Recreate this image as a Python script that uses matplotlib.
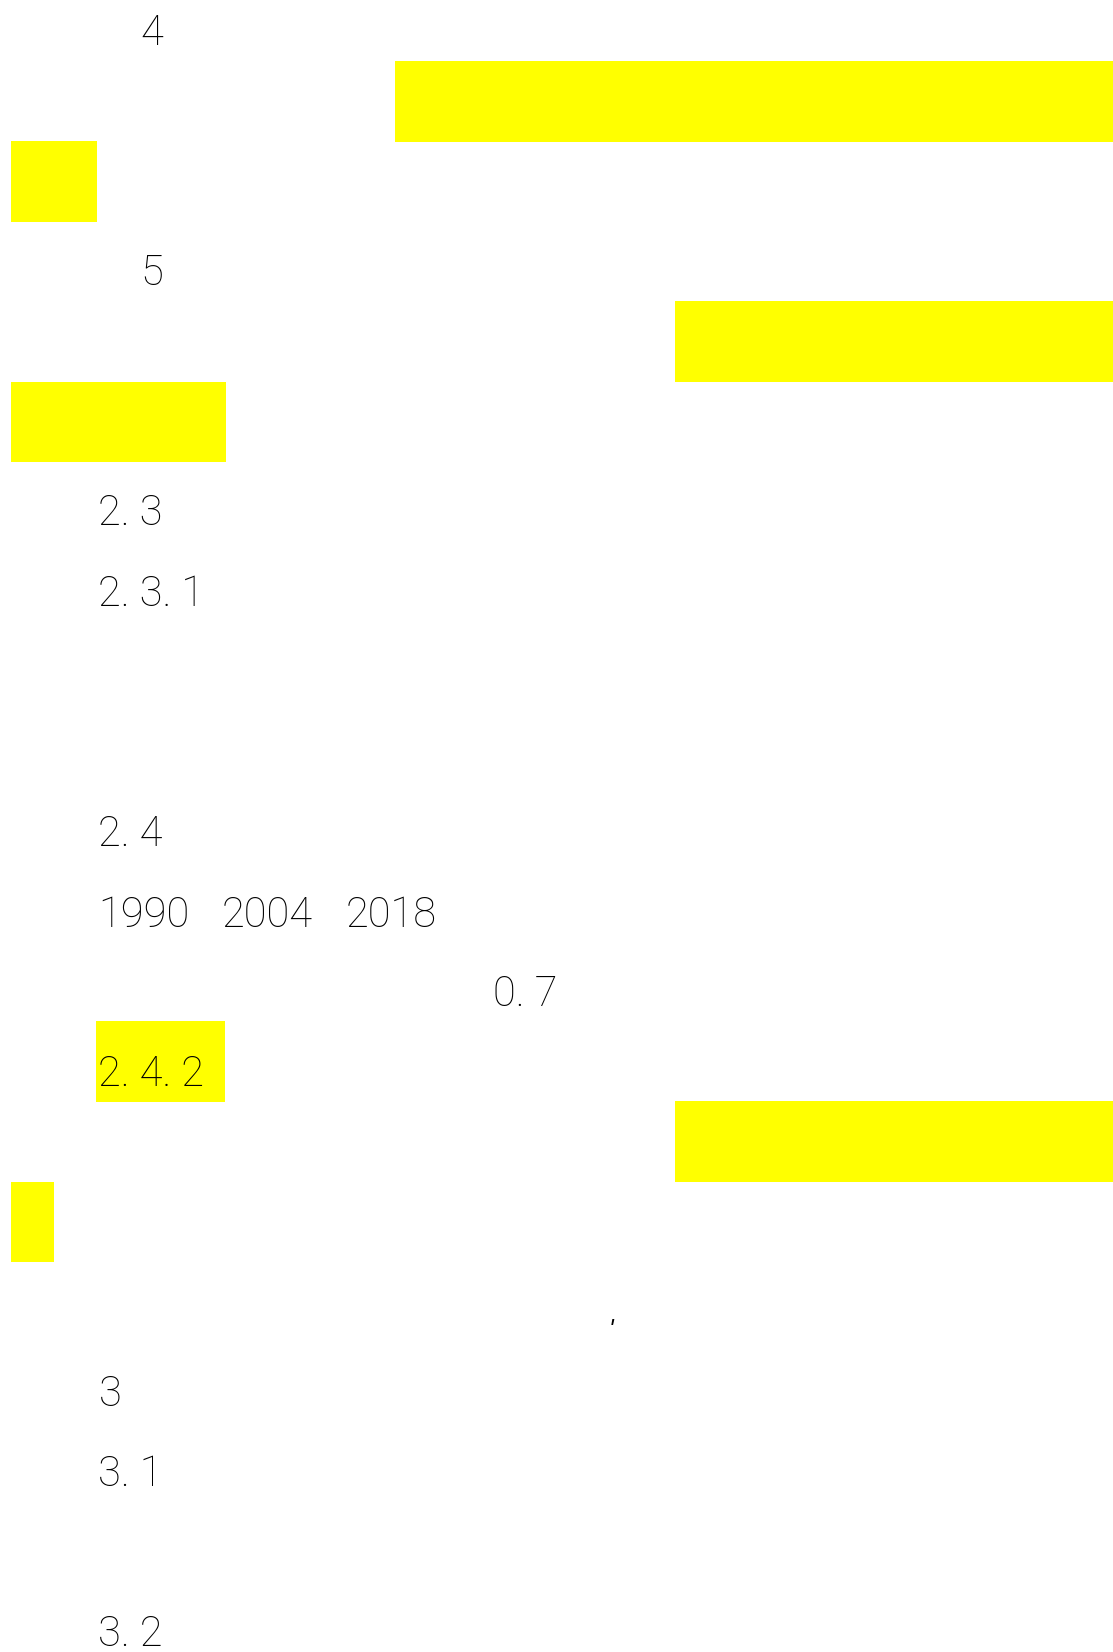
import matplotlib.pyplot as plt

plt.rcParams['font.family'] = ['Roboto', 'Liberation Sans', 'DejaVu Sans']

# text fragments left on the page
labels = ["4", "5", "2. 3", "2. 3. 1", "2. 4",
          "1990", "2004", "2018", "0. 7", "2. 4. 2", "3", "3. 1", "3. 2"]
label_x = [140, 140, 98, 98, 98, 98, 222, 346, 493, 98, 99, 98, 98]
label_base = [45, 285, 525, 606, 846, 927, 927, 927, 1006, 1086, 1406, 1486, 1646]

# yellow highlight spans (left, right, top, bottom in page pixels)
hl_left = [395, 11, 675, 11, 96, 675, 11]
hl_right = [1113, 97, 1113, 226, 225, 1113, 54]
hl_top = [61, 141, 301, 382, 1021, 1101, 1182]
hl_bottom = [142, 222, 382, 462, 1102, 1182, 1262]

W, H = 1113, 1652
fig = plt.figure(figsize=(W / 100, H / 100), dpi=100)
ax = fig.add_axes([0, 0, 1, 1])
ax.set_xlim(0, W)
ax.set_ylim(H, 0)
ax.axis('off')

for l, r, t, b in zip(hl_left, hl_right, hl_top, hl_bottom):
    ax.barh((t + b) / 2, r - l, left=l, height=b - t, color='#ffff00', linewidth=0, zorder=1)

for s, x, y in zip(labels, label_x, label_base):
    ax.text(x, y, s, fontsize=30, fontweight='light', va='baseline', ha='left',
            color='black', zorder=2)

# stray punctuation mark
ax.text(609, 1319, "'", fontsize=20, style='italic', va='top', ha='left', color='black')

fig.savefig('out.png', dpi=100, facecolor='white')
